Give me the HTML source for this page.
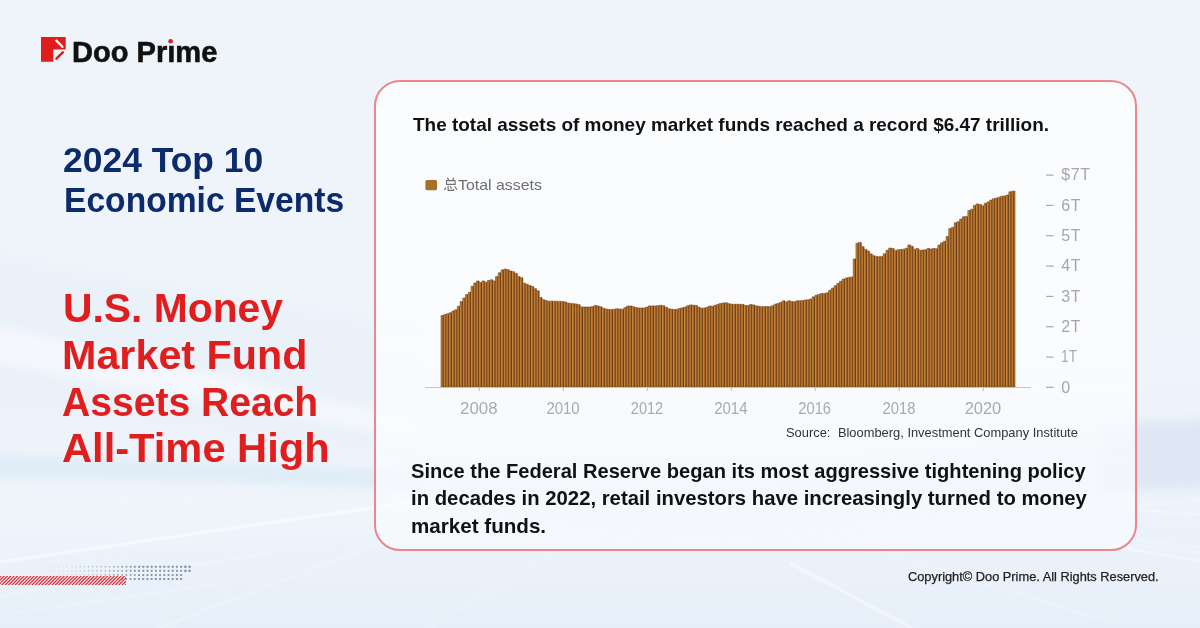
<!DOCTYPE html>
<html><head><meta charset="utf-8">
<style>
*{margin:0;padding:0;box-sizing:border-box}
html,body{width:1200px;height:628px;overflow:hidden}
body{position:relative;font-family:"Liberation Sans",sans-serif;background:#eef2f8}
.ln{position:absolute;white-space:nowrap;line-height:1;transform-origin:0 0}
.abs{position:absolute}

</style></head><body>
<svg class="abs" style="left:0;top:0" width="1200" height="628" viewBox="0 0 1200 628">
<defs>
<linearGradient id="g1" x1="0" y1="0" x2="0" y2="1">
<stop offset="0" stop-color="#eff4f9"/><stop offset="0.5" stop-color="#eef4fa"/><stop offset="1" stop-color="#ecf2fa"/>
</linearGradient>
<linearGradient id="gb" x1="0" y1="0" x2="0" y2="1"><stop offset="0" stop-color="#e8f0f9" stop-opacity="0"/><stop offset="0.5" stop-color="#e8f0f9" stop-opacity="0.5"/><stop offset="1" stop-color="#e5eef9" stop-opacity="0.8"/></linearGradient>
<filter id="b20" x="-50%" y="-50%" width="200%" height="200%"><feGaussianBlur stdDeviation="18"/></filter>
<filter id="b6" x="-50%" y="-50%" width="200%" height="200%"><feGaussianBlur stdDeviation="5"/></filter>
<filter id="b3" x="-50%" y="-50%" width="200%" height="200%"><feGaussianBlur stdDeviation="3"/></filter>
<filter id="b1" x="-10%" y="-50%" width="120%" height="200%"><feGaussianBlur stdDeviation="0.9"/></filter>
</defs>
<rect width="1200" height="628" fill="url(#g1)"/>
<!-- left ribbons -->
<path d="M-20 250 C 100 280, 250 300, 420 330 L 420 460 C 300 440, 150 420, -20 410 Z" fill="#e9f1f9" opacity="0.7" filter="url(#b6)"/>
<path d="M-20 320 C 80 345, 200 370, 420 420 L 420 440 C 200 400, 80 380, -20 360 Z" fill="#f5f8fc" opacity="0.9" filter="url(#b6)"/>
<path d="M-20 455 C 150 458, 300 466, 420 472 L 420 490 C 300 484, 150 478, -20 478 Z" fill="#dcebf7" opacity="0.75" filter="url(#b3)"/>
<path d="M-20 485 C 150 490, 300 495, 420 500 L 420 540 L -20 560 Z" fill="#f3f7fc" opacity="0.6" filter="url(#b6)"/>
<!-- right band -->
<path d="M1100 425 C 1140 420, 1180 420, 1220 418 L 1220 488 C 1180 490, 1140 490, 1100 492 Z" fill="#dbe6f4" opacity="0.8" filter="url(#b6)"/>
<path d="M420 470 C 700 500, 900 470, 1100 440 L 1100 490 C 900 510, 700 520, 420 500 Z" fill="#dfe8f4" opacity="0.8" filter="url(#b20)"/>
<!-- bottom tint -->
<rect x="0" y="500" width="1200" height="128" fill="url(#gb)"/>
<!-- streaks -->
<g fill="none" filter="url(#b1)">
<line x1="0" y1="562" x2="420" y2="501" stroke="#ffffff" stroke-width="2" opacity="0.85"/>
<line x1="0" y1="596" x2="300" y2="548" stroke="#f4fbff" stroke-width="1.5" opacity="0.6"/>
<line x1="0" y1="615" x2="280" y2="575" stroke="#f4fbff" stroke-width="1.5" opacity="0.5"/>
<line x1="158" y1="628" x2="420" y2="528" stroke="#f4fbff" stroke-width="1.5" opacity="0.6"/>
<line x1="790" y1="563" x2="912" y2="628" stroke="#ffffff" stroke-width="2" opacity="0.75"/>
<line x1="880" y1="551" x2="1110" y2="622" stroke="#f2fbff" stroke-width="1.8" opacity="0.6"/>
<line x1="1110" y1="546" x2="1200" y2="561" stroke="#ffffff" stroke-width="1.8" opacity="0.6"/>
<line x1="1130" y1="540" x2="1200" y2="547" stroke="#ffffff" stroke-width="1.5" opacity="0.5"/>
<line x1="1137" y1="505" x2="1200" y2="500" stroke="#ffffff" stroke-width="1.5" opacity="0.5"/>
<line x1="900" y1="490" x2="1200" y2="515" stroke="#ffffff" stroke-width="1.5" opacity="0.6"/>
<line x1="980" y1="530" x2="1200" y2="552" stroke="#f2fbff" stroke-width="1.5" opacity="0.6"/>
<line x1="430" y1="628" x2="560" y2="548" stroke="#f4fbff" stroke-width="1.5" opacity="0.5"/>
</g>
</svg>

<svg class="abs" style="left:0;top:0" width="1200" height="628" viewBox="0 0 1200 628">
<defs><clipPath id="hc"><rect x="0" y="576" width="126" height="9"/></clipPath></defs>
<g><rect x="188.45" y="565.60" width="2.30" height="2.30" rx="0.69" fill="#8393a3" opacity="1.00"/><rect x="184.24" y="565.60" width="2.30" height="2.30" rx="0.69" fill="#8393a3" opacity="1.00"/><rect x="180.18" y="565.75" width="2.00" height="2.00" rx="0.60" fill="#8393a3" opacity="1.00"/><rect x="175.97" y="565.75" width="2.00" height="2.00" rx="0.60" fill="#8393a3" opacity="1.00"/><rect x="171.76" y="565.75" width="2.00" height="2.00" rx="0.60" fill="#8393a3" opacity="1.00"/><rect x="167.55" y="565.75" width="2.00" height="2.00" rx="0.60" fill="#8393a3" opacity="1.00"/><rect x="163.34" y="565.75" width="2.00" height="2.00" rx="0.60" fill="#8393a3" opacity="1.00"/><rect x="159.13" y="565.75" width="2.00" height="2.00" rx="0.60" fill="#8393a3" opacity="1.00"/><rect x="154.92" y="565.75" width="2.00" height="2.00" rx="0.60" fill="#8393a3" opacity="1.00"/><rect x="150.71" y="565.75" width="2.00" height="2.00" rx="0.60" fill="#8393a3" opacity="1.00"/><rect x="146.50" y="565.75" width="2.00" height="2.00" rx="0.60" fill="#8393a3" opacity="1.00"/><rect x="142.29" y="565.75" width="2.00" height="2.00" rx="0.60" fill="#8393a3" opacity="1.00"/><rect x="138.09" y="565.76" width="1.99" height="1.99" rx="0.60" fill="#8393a3" opacity="0.99"/><rect x="133.90" y="565.78" width="1.94" height="1.94" rx="0.58" fill="#8393a3" opacity="0.94"/><rect x="129.71" y="565.80" width="1.89" height="1.89" rx="0.57" fill="#8393a3" opacity="0.90"/><rect x="125.53" y="565.83" width="1.84" height="1.84" rx="0.55" fill="#8393a3" opacity="0.85"/><rect x="121.34" y="565.85" width="1.80" height="1.80" rx="0.54" fill="#8393a3" opacity="0.81"/><rect x="117.16" y="565.88" width="1.75" height="1.75" rx="0.52" fill="#8393a3" opacity="0.76"/><rect x="112.97" y="565.90" width="1.70" height="1.70" rx="0.51" fill="#8393a3" opacity="0.72"/><rect x="108.79" y="565.93" width="1.65" height="1.65" rx="0.49" fill="#8393a3" opacity="0.67"/><rect x="104.60" y="565.95" width="1.60" height="1.60" rx="0.48" fill="#8393a3" opacity="0.63"/><rect x="100.41" y="565.97" width="1.55" height="1.55" rx="0.47" fill="#8393a3" opacity="0.59"/><rect x="96.23" y="566.00" width="1.50" height="1.50" rx="0.45" fill="#8393a3" opacity="0.55"/><rect x="92.04" y="566.02" width="1.46" height="1.46" rx="0.44" fill="#8393a3" opacity="0.51"/><rect x="87.86" y="566.05" width="1.41" height="1.41" rx="0.42" fill="#8393a3" opacity="0.47"/><rect x="83.67" y="566.07" width="1.36" height="1.36" rx="0.41" fill="#8393a3" opacity="0.43"/><rect x="79.49" y="566.10" width="1.31" height="1.31" rx="0.39" fill="#8393a3" opacity="0.40"/><rect x="75.30" y="566.12" width="1.26" height="1.26" rx="0.38" fill="#8393a3" opacity="0.36"/><rect x="71.11" y="566.14" width="1.21" height="1.21" rx="0.36" fill="#8393a3" opacity="0.32"/><rect x="66.93" y="566.17" width="1.16" height="1.16" rx="0.35" fill="#8393a3" opacity="0.29"/><rect x="62.74" y="566.19" width="1.11" height="1.11" rx="0.33" fill="#8393a3" opacity="0.26"/><rect x="58.56" y="566.22" width="1.07" height="1.07" rx="0.32" fill="#8393a3" opacity="0.23"/><rect x="54.37" y="566.24" width="1.02" height="1.02" rx="0.31" fill="#8393a3" opacity="0.20"/><rect x="50.19" y="566.27" width="0.97" height="0.97" rx="0.29" fill="#8393a3" opacity="0.17"/><rect x="46.00" y="566.29" width="0.92" height="0.92" rx="0.28" fill="#8393a3" opacity="0.15"/><rect x="41.81" y="566.31" width="0.87" height="0.87" rx="0.26" fill="#8393a3" opacity="0.12"/><rect x="37.63" y="566.34" width="0.82" height="0.82" rx="0.25" fill="#8393a3" opacity="0.11"/><rect x="188.45" y="569.65" width="2.30" height="2.30" rx="0.69" fill="#8393a3" opacity="1.00"/><rect x="184.24" y="569.65" width="2.30" height="2.30" rx="0.69" fill="#8393a3" opacity="1.00"/><rect x="180.18" y="569.80" width="2.00" height="2.00" rx="0.60" fill="#8393a3" opacity="1.00"/><rect x="175.97" y="569.80" width="2.00" height="2.00" rx="0.60" fill="#8393a3" opacity="1.00"/><rect x="171.76" y="569.80" width="2.00" height="2.00" rx="0.60" fill="#8393a3" opacity="1.00"/><rect x="167.55" y="569.80" width="2.00" height="2.00" rx="0.60" fill="#8393a3" opacity="1.00"/><rect x="163.34" y="569.80" width="2.00" height="2.00" rx="0.60" fill="#8393a3" opacity="1.00"/><rect x="159.13" y="569.80" width="2.00" height="2.00" rx="0.60" fill="#8393a3" opacity="1.00"/><rect x="154.92" y="569.80" width="2.00" height="2.00" rx="0.60" fill="#8393a3" opacity="1.00"/><rect x="150.71" y="569.80" width="2.00" height="2.00" rx="0.60" fill="#8393a3" opacity="1.00"/><rect x="146.50" y="569.80" width="2.00" height="2.00" rx="0.60" fill="#8393a3" opacity="1.00"/><rect x="142.29" y="569.80" width="2.00" height="2.00" rx="0.60" fill="#8393a3" opacity="1.00"/><rect x="138.09" y="569.81" width="1.99" height="1.99" rx="0.60" fill="#8393a3" opacity="0.99"/><rect x="133.90" y="569.83" width="1.94" height="1.94" rx="0.58" fill="#8393a3" opacity="0.94"/><rect x="129.71" y="569.85" width="1.89" height="1.89" rx="0.57" fill="#8393a3" opacity="0.90"/><rect x="125.53" y="569.88" width="1.84" height="1.84" rx="0.55" fill="#8393a3" opacity="0.85"/><rect x="121.34" y="569.90" width="1.80" height="1.80" rx="0.54" fill="#8393a3" opacity="0.81"/><rect x="117.16" y="569.93" width="1.75" height="1.75" rx="0.52" fill="#8393a3" opacity="0.76"/><rect x="112.97" y="569.95" width="1.70" height="1.70" rx="0.51" fill="#8393a3" opacity="0.72"/><rect x="108.79" y="569.98" width="1.65" height="1.65" rx="0.49" fill="#8393a3" opacity="0.67"/><rect x="104.60" y="570.00" width="1.60" height="1.60" rx="0.48" fill="#8393a3" opacity="0.63"/><rect x="100.41" y="570.02" width="1.55" height="1.55" rx="0.47" fill="#8393a3" opacity="0.59"/><rect x="96.23" y="570.05" width="1.50" height="1.50" rx="0.45" fill="#8393a3" opacity="0.55"/><rect x="92.04" y="570.07" width="1.46" height="1.46" rx="0.44" fill="#8393a3" opacity="0.51"/><rect x="87.86" y="570.10" width="1.41" height="1.41" rx="0.42" fill="#8393a3" opacity="0.47"/><rect x="83.67" y="570.12" width="1.36" height="1.36" rx="0.41" fill="#8393a3" opacity="0.43"/><rect x="79.49" y="570.15" width="1.31" height="1.31" rx="0.39" fill="#8393a3" opacity="0.40"/><rect x="75.30" y="570.17" width="1.26" height="1.26" rx="0.38" fill="#8393a3" opacity="0.36"/><rect x="71.11" y="570.19" width="1.21" height="1.21" rx="0.36" fill="#8393a3" opacity="0.32"/><rect x="66.93" y="570.22" width="1.16" height="1.16" rx="0.35" fill="#8393a3" opacity="0.29"/><rect x="62.74" y="570.24" width="1.11" height="1.11" rx="0.33" fill="#8393a3" opacity="0.26"/><rect x="58.56" y="570.27" width="1.07" height="1.07" rx="0.32" fill="#8393a3" opacity="0.23"/><rect x="54.37" y="570.29" width="1.02" height="1.02" rx="0.31" fill="#8393a3" opacity="0.20"/><rect x="50.19" y="570.32" width="0.97" height="0.97" rx="0.29" fill="#8393a3" opacity="0.17"/><rect x="46.00" y="570.34" width="0.92" height="0.92" rx="0.28" fill="#8393a3" opacity="0.15"/><rect x="41.81" y="570.36" width="0.87" height="0.87" rx="0.26" fill="#8393a3" opacity="0.12"/><rect x="37.63" y="570.39" width="0.82" height="0.82" rx="0.25" fill="#8393a3" opacity="0.11"/><rect x="180.10" y="573.90" width="2.00" height="2.00" rx="0.60" fill="#8393a3" opacity="1.00"/><rect x="175.89" y="573.90" width="2.00" height="2.00" rx="0.60" fill="#8393a3" opacity="1.00"/><rect x="171.68" y="573.90" width="2.00" height="2.00" rx="0.60" fill="#8393a3" opacity="1.00"/><rect x="167.47" y="573.90" width="2.00" height="2.00" rx="0.60" fill="#8393a3" opacity="1.00"/><rect x="163.26" y="573.90" width="2.00" height="2.00" rx="0.60" fill="#8393a3" opacity="1.00"/><rect x="159.05" y="573.90" width="2.00" height="2.00" rx="0.60" fill="#8393a3" opacity="1.00"/><rect x="154.84" y="573.90" width="2.00" height="2.00" rx="0.60" fill="#8393a3" opacity="1.00"/><rect x="150.63" y="573.90" width="2.00" height="2.00" rx="0.60" fill="#8393a3" opacity="1.00"/><rect x="146.42" y="573.90" width="2.00" height="2.00" rx="0.60" fill="#8393a3" opacity="1.00"/><rect x="142.21" y="573.90" width="2.00" height="2.00" rx="0.60" fill="#8393a3" opacity="1.00"/><rect x="138.01" y="573.91" width="1.99" height="1.99" rx="0.60" fill="#8393a3" opacity="0.99"/><rect x="133.82" y="573.93" width="1.94" height="1.94" rx="0.58" fill="#8393a3" opacity="0.94"/><rect x="129.63" y="573.95" width="1.89" height="1.89" rx="0.57" fill="#8393a3" opacity="0.90"/><rect x="125.45" y="573.98" width="1.84" height="1.84" rx="0.55" fill="#8393a3" opacity="0.85"/><rect x="121.26" y="574.00" width="1.79" height="1.79" rx="0.54" fill="#8393a3" opacity="0.80"/><rect x="117.08" y="574.03" width="1.75" height="1.75" rx="0.52" fill="#8393a3" opacity="0.76"/><rect x="112.89" y="574.05" width="1.70" height="1.70" rx="0.51" fill="#8393a3" opacity="0.72"/><rect x="108.71" y="574.08" width="1.65" height="1.65" rx="0.49" fill="#8393a3" opacity="0.67"/><rect x="104.52" y="574.10" width="1.60" height="1.60" rx="0.48" fill="#8393a3" opacity="0.63"/><rect x="100.33" y="574.12" width="1.55" height="1.55" rx="0.47" fill="#8393a3" opacity="0.59"/><rect x="96.15" y="574.15" width="1.50" height="1.50" rx="0.45" fill="#8393a3" opacity="0.55"/><rect x="91.96" y="574.17" width="1.45" height="1.45" rx="0.44" fill="#8393a3" opacity="0.51"/><rect x="87.78" y="574.20" width="1.41" height="1.41" rx="0.42" fill="#8393a3" opacity="0.47"/><rect x="83.59" y="574.22" width="1.36" height="1.36" rx="0.41" fill="#8393a3" opacity="0.43"/><rect x="79.41" y="574.25" width="1.31" height="1.31" rx="0.39" fill="#8393a3" opacity="0.39"/><rect x="75.22" y="574.27" width="1.26" height="1.26" rx="0.38" fill="#8393a3" opacity="0.36"/><rect x="71.03" y="574.29" width="1.21" height="1.21" rx="0.36" fill="#8393a3" opacity="0.32"/><rect x="66.85" y="574.32" width="1.16" height="1.16" rx="0.35" fill="#8393a3" opacity="0.29"/><rect x="62.66" y="574.34" width="1.11" height="1.11" rx="0.33" fill="#8393a3" opacity="0.26"/><rect x="58.48" y="574.37" width="1.07" height="1.07" rx="0.32" fill="#8393a3" opacity="0.23"/><rect x="54.29" y="574.39" width="1.02" height="1.02" rx="0.31" fill="#8393a3" opacity="0.20"/><rect x="50.11" y="574.42" width="0.97" height="0.97" rx="0.29" fill="#8393a3" opacity="0.17"/><rect x="45.92" y="574.44" width="0.92" height="0.92" rx="0.28" fill="#8393a3" opacity="0.14"/><rect x="41.73" y="574.46" width="0.87" height="0.87" rx="0.26" fill="#8393a3" opacity="0.12"/><rect x="37.55" y="574.49" width="0.82" height="0.82" rx="0.25" fill="#8393a3" opacity="0.11"/><rect x="180.10" y="578.00" width="2.00" height="2.00" rx="0.60" fill="#8393a3" opacity="1.00"/><rect x="175.89" y="578.00" width="2.00" height="2.00" rx="0.60" fill="#8393a3" opacity="1.00"/><rect x="171.68" y="578.00" width="2.00" height="2.00" rx="0.60" fill="#8393a3" opacity="1.00"/><rect x="167.47" y="578.00" width="2.00" height="2.00" rx="0.60" fill="#8393a3" opacity="1.00"/><rect x="163.26" y="578.00" width="2.00" height="2.00" rx="0.60" fill="#8393a3" opacity="1.00"/><rect x="159.05" y="578.00" width="2.00" height="2.00" rx="0.60" fill="#8393a3" opacity="1.00"/><rect x="154.84" y="578.00" width="2.00" height="2.00" rx="0.60" fill="#8393a3" opacity="1.00"/><rect x="150.63" y="578.00" width="2.00" height="2.00" rx="0.60" fill="#8393a3" opacity="1.00"/><rect x="146.42" y="578.00" width="2.00" height="2.00" rx="0.60" fill="#8393a3" opacity="1.00"/><rect x="142.21" y="578.00" width="2.00" height="2.00" rx="0.60" fill="#8393a3" opacity="1.00"/><rect x="138.01" y="578.01" width="1.99" height="1.99" rx="0.60" fill="#8393a3" opacity="0.99"/><rect x="133.82" y="578.03" width="1.94" height="1.94" rx="0.58" fill="#8393a3" opacity="0.94"/><rect x="129.63" y="578.05" width="1.89" height="1.89" rx="0.57" fill="#8393a3" opacity="0.90"/><rect x="125.45" y="578.08" width="1.84" height="1.84" rx="0.55" fill="#8393a3" opacity="0.85"/><rect x="121.26" y="578.10" width="1.79" height="1.79" rx="0.54" fill="#8393a3" opacity="0.80"/><rect x="117.08" y="578.13" width="1.75" height="1.75" rx="0.52" fill="#8393a3" opacity="0.76"/><rect x="112.89" y="578.15" width="1.70" height="1.70" rx="0.51" fill="#8393a3" opacity="0.72"/><rect x="108.71" y="578.18" width="1.65" height="1.65" rx="0.49" fill="#8393a3" opacity="0.67"/><rect x="104.52" y="578.20" width="1.60" height="1.60" rx="0.48" fill="#8393a3" opacity="0.63"/><rect x="100.33" y="578.22" width="1.55" height="1.55" rx="0.47" fill="#8393a3" opacity="0.59"/><rect x="96.15" y="578.25" width="1.50" height="1.50" rx="0.45" fill="#8393a3" opacity="0.55"/><rect x="91.96" y="578.27" width="1.45" height="1.45" rx="0.44" fill="#8393a3" opacity="0.51"/><rect x="87.78" y="578.30" width="1.41" height="1.41" rx="0.42" fill="#8393a3" opacity="0.47"/><rect x="83.59" y="578.32" width="1.36" height="1.36" rx="0.41" fill="#8393a3" opacity="0.43"/><rect x="79.41" y="578.35" width="1.31" height="1.31" rx="0.39" fill="#8393a3" opacity="0.39"/><rect x="75.22" y="578.37" width="1.26" height="1.26" rx="0.38" fill="#8393a3" opacity="0.36"/><rect x="71.03" y="578.39" width="1.21" height="1.21" rx="0.36" fill="#8393a3" opacity="0.32"/><rect x="66.85" y="578.42" width="1.16" height="1.16" rx="0.35" fill="#8393a3" opacity="0.29"/><rect x="62.66" y="578.44" width="1.11" height="1.11" rx="0.33" fill="#8393a3" opacity="0.26"/><rect x="58.48" y="578.47" width="1.07" height="1.07" rx="0.32" fill="#8393a3" opacity="0.23"/><rect x="54.29" y="578.49" width="1.02" height="1.02" rx="0.31" fill="#8393a3" opacity="0.20"/><rect x="50.11" y="578.52" width="0.97" height="0.97" rx="0.29" fill="#8393a3" opacity="0.17"/><rect x="45.92" y="578.54" width="0.92" height="0.92" rx="0.28" fill="#8393a3" opacity="0.14"/><rect x="41.73" y="578.56" width="0.87" height="0.87" rx="0.26" fill="#8393a3" opacity="0.12"/><rect x="37.55" y="578.59" width="0.82" height="0.82" rx="0.25" fill="#8393a3" opacity="0.11"/></g>
<g clip-path="url(#hc)" fill="#e2262c"><path d="M-9.00 585L0.00 576L1.65 576L-7.35 585Z"/><path d="M-5.66 585L3.34 576L4.99 576L-4.01 585Z"/><path d="M-2.32 585L6.68 576L8.33 576L-0.67 585Z"/><path d="M1.02 585L10.02 576L11.67 576L2.67 585Z"/><path d="M4.36 585L13.36 576L15.01 576L6.01 585Z"/><path d="M7.70 585L16.70 576L18.35 576L9.35 585Z"/><path d="M11.04 585L20.04 576L21.69 576L12.69 585Z"/><path d="M14.38 585L23.38 576L25.03 576L16.03 585Z"/><path d="M17.72 585L26.72 576L28.37 576L19.37 585Z"/><path d="M21.06 585L30.06 576L31.71 576L22.71 585Z"/><path d="M24.40 585L33.40 576L35.05 576L26.05 585Z"/><path d="M27.74 585L36.74 576L38.39 576L29.39 585Z"/><path d="M31.08 585L40.08 576L41.73 576L32.73 585Z"/><path d="M34.42 585L43.42 576L45.07 576L36.07 585Z"/><path d="M37.76 585L46.76 576L48.41 576L39.41 585Z"/><path d="M41.10 585L50.10 576L51.75 576L42.75 585Z"/><path d="M44.44 585L53.44 576L55.09 576L46.09 585Z"/><path d="M47.78 585L56.78 576L58.43 576L49.43 585Z"/><path d="M51.12 585L60.12 576L61.77 576L52.77 585Z"/><path d="M54.46 585L63.46 576L65.11 576L56.11 585Z"/><path d="M57.80 585L66.80 576L68.45 576L59.45 585Z"/><path d="M61.14 585L70.14 576L71.79 576L62.79 585Z"/><path d="M64.48 585L73.48 576L75.13 576L66.13 585Z"/><path d="M67.82 585L76.82 576L78.47 576L69.47 585Z"/><path d="M71.16 585L80.16 576L81.81 576L72.81 585Z"/><path d="M74.50 585L83.50 576L85.15 576L76.15 585Z"/><path d="M77.84 585L86.84 576L88.49 576L79.49 585Z"/><path d="M81.18 585L90.18 576L91.83 576L82.83 585Z"/><path d="M84.52 585L93.52 576L95.17 576L86.17 585Z"/><path d="M87.86 585L96.86 576L98.51 576L89.51 585Z"/><path d="M91.20 585L100.20 576L101.85 576L92.85 585Z"/><path d="M94.54 585L103.54 576L105.19 576L96.19 585Z"/><path d="M97.88 585L106.88 576L108.53 576L99.53 585Z"/><path d="M101.22 585L110.22 576L111.87 576L102.87 585Z"/><path d="M104.56 585L113.56 576L115.21 576L106.21 585Z"/><path d="M107.90 585L116.90 576L118.55 576L109.55 585Z"/><path d="M111.24 585L120.24 576L121.89 576L112.89 585Z"/><path d="M114.58 585L123.58 576L125.23 576L116.23 585Z"/><path d="M117.92 585L126.92 576L128.57 576L119.57 585Z"/><path d="M121.26 585L130.26 576L131.91 576L122.91 585Z"/><path d="M124.60 585L133.60 576L135.25 576L126.25 585Z"/></g>
</svg>
<svg class="abs" style="left:41px;top:37px" width="26" height="26" viewBox="0 0 26 26">
<path d="M0 0H24.7V12.4H12.2V24.7H0Z" fill="#e21b1b"/>
<path d="M15.4 3.6L21.4 9.8" stroke="#fff" stroke-width="2.3" stroke-linecap="round"/>
<path d="M15.4 21.6L21.8 15.4" stroke="#e21b1b" stroke-width="2.5" stroke-linecap="round"/>
</svg>
<div class="abs" style="left:373.8px;top:79.5px;width:763px;height:471px;border:2px solid #ec868b;border-radius:26px;background:linear-gradient(180deg,rgba(251,252,254,0.86) 0%,rgba(251,252,254,0.84) 60%,rgba(250,252,254,0.6) 100%)"></div>
<svg class="abs" style="left:0;top:0" width="1200" height="628" viewBox="0 0 1200 628">
<defs>
<pattern id="bars" x="441" y="0" width="2.73" height="10" patternUnits="userSpaceOnUse">
<rect width="2.73" height="10" fill="#a8662a"/>
<rect x="0.1" width="0.7" height="10" fill="#d49141"/>
<rect x="1.9" width="0.83" height="10" fill="#62380e"/>
</pattern>
</defs>
<path d="M441 387 L441.00 315.46 L443.73 315.46 L443.73 314.47 L446.46 314.47 L446.46 313.76 L449.19 313.76 L449.19 312.68 L451.92 312.68 L451.92 311.08 L454.65 311.08 L454.65 309.76 L457.38 309.76 L457.38 306.25 L460.11 306.25 L460.11 301.61 L462.84 301.61 L462.84 297.97 L465.57 297.97 L465.57 294.56 L468.30 294.56 L468.30 292.27 L471.03 292.27 L471.03 286.19 L473.76 286.19 L473.76 282.97 L476.49 282.97 L476.49 280.96 L479.22 280.96 L479.22 282.43 L481.95 282.43 L481.95 280.94 L484.68 280.94 L484.68 282.27 L487.41 282.27 L487.41 280.51 L490.14 280.51 L490.14 279.76 L492.87 279.76 L492.87 280.95 L495.60 280.95 L495.60 276.53 L498.33 276.53 L498.33 272.71 L501.06 272.71 L501.06 269.88 L503.79 269.88 L503.79 269.08 L506.52 269.08 L506.52 269.69 L509.25 269.69 L509.25 271.06 L511.98 271.06 L511.98 271.78 L514.71 271.78 L514.71 273.44 L517.44 273.44 L517.44 276.41 L520.17 276.41 L520.17 277.87 L522.90 277.87 L522.90 283.16 L525.63 283.16 L525.63 284.37 L528.36 284.37 L528.36 285.55 L531.09 285.55 L531.09 286.62 L533.82 286.62 L533.82 288.65 L536.55 288.65 L536.55 290.87 L539.28 290.87 L539.28 297.56 L542.01 297.56 L542.01 299.67 L544.74 299.67 L544.74 300.59 L547.47 300.59 L547.47 301.27 L550.20 301.27 L550.20 301.16 L552.93 301.16 L552.93 301.16 L555.66 301.16 L555.66 301.28 L558.39 301.28 L558.39 301.39 L561.12 301.39 L561.12 301.51 L563.85 301.51 L563.85 301.95 L566.58 301.95 L566.58 303.06 L569.31 303.06 L569.31 303.38 L572.04 303.38 L572.04 303.70 L574.77 303.70 L574.77 304.00 L577.50 304.00 L577.50 304.76 L580.23 304.76 L580.23 306.92 L582.96 306.92 L582.96 307.00 L585.69 307.00 L585.69 307.00 L588.42 307.00 L588.42 307.00 L591.15 307.00 L591.15 306.63 L593.88 306.63 L593.88 305.54 L596.61 305.54 L596.61 306.01 L599.34 306.01 L599.34 306.82 L602.07 306.82 L602.07 308.25 L604.80 308.25 L604.80 309.01 L607.53 309.01 L607.53 309.47 L610.26 309.47 L610.26 309.52 L612.99 309.52 L612.99 309.16 L615.72 309.16 L615.72 308.81 L618.45 308.81 L618.45 309.07 L621.18 309.07 L621.18 309.16 L623.91 309.16 L623.91 307.61 L626.64 307.61 L626.64 306.06 L629.37 306.06 L629.37 306.02 L632.10 306.02 L632.10 306.84 L634.83 306.84 L634.83 307.55 L637.56 307.55 L637.56 308.00 L640.29 308.00 L640.29 308.00 L643.02 308.00 L643.02 308.00 L645.75 308.00 L645.75 307.08 L648.48 307.08 L648.48 305.90 L651.21 305.90 L651.21 305.89 L653.94 305.89 L653.94 306.05 L656.67 306.05 L656.67 305.64 L659.40 305.64 L659.40 305.35 L662.13 305.35 L662.13 305.65 L664.86 305.65 L664.86 307.37 L667.59 307.37 L667.59 308.83 L670.32 308.83 L670.32 309.20 L673.05 309.20 L673.05 309.58 L675.78 309.58 L675.78 309.23 L678.51 309.23 L678.51 308.53 L681.24 308.53 L681.24 307.80 L683.97 307.80 L683.97 307.07 L686.70 307.07 L686.70 305.65 L689.43 305.65 L689.43 304.89 L692.16 304.89 L692.16 305.23 L694.89 305.23 L694.89 305.57 L697.62 305.57 L697.62 307.32 L700.35 307.32 L700.35 308.20 L703.08 308.20 L703.08 308.05 L705.81 308.05 L705.81 307.20 L708.54 307.20 L708.54 306.04 L711.27 306.04 L711.27 306.15 L714.00 306.15 L714.00 305.33 L716.73 305.33 L716.73 304.28 L719.46 304.28 L719.46 303.44 L722.19 303.44 L722.19 303.01 L724.92 303.01 L724.92 302.80 L727.65 302.80 L727.65 303.73 L730.38 303.73 L730.38 304.30 L733.11 304.30 L733.11 304.30 L735.84 304.30 L735.84 304.30 L738.57 304.30 L738.57 304.30 L741.30 304.30 L741.30 304.46 L744.03 304.46 L744.03 305.62 L746.76 305.62 L746.76 305.47 L749.49 305.47 L749.49 304.44 L752.22 304.44 L752.22 304.99 L754.95 304.99 L754.95 305.90 L757.68 305.90 L757.68 306.30 L760.41 306.30 L760.41 306.70 L763.14 306.70 L763.14 306.53 L765.87 306.53 L765.87 306.57 L768.60 306.57 L768.60 306.67 L771.33 306.67 L771.33 305.68 L774.06 305.68 L774.06 304.19 L776.79 304.19 L776.79 303.51 L779.52 303.51 L779.52 302.30 L782.25 302.30 L782.25 300.85 L784.98 300.85 L784.98 301.98 L787.71 301.98 L787.71 300.82 L790.44 300.82 L790.44 301.52 L793.17 301.52 L793.17 301.70 L795.90 301.70 L795.90 300.80 L798.63 300.80 L798.63 300.80 L801.36 300.80 L801.36 300.55 L804.09 300.55 L804.09 299.97 L806.82 299.97 L806.82 299.80 L809.55 299.80 L809.55 298.91 L812.28 298.91 L812.28 296.85 L815.01 296.85 L815.01 295.26 L817.74 295.26 L817.74 294.39 L820.47 294.39 L820.47 293.51 L823.20 293.51 L823.20 293.39 L825.93 293.39 L825.93 292.86 L828.66 292.86 L828.66 290.17 L831.39 290.17 L831.39 288.10 L834.12 288.10 L834.12 285.68 L836.85 285.68 L836.85 283.35 L839.58 283.35 L839.58 281.17 L842.31 281.17 L842.31 279.12 L845.04 279.12 L845.04 278.03 L847.77 278.03 L847.77 277.38 L850.50 277.38 L850.50 276.96 L853.23 276.96 L853.23 258.95 L855.96 258.95 L855.96 243.17 L858.69 243.17 L858.69 242.38 L861.42 242.38 L861.42 246.75 L864.15 246.75 L864.15 249.39 L866.88 249.39 L866.88 251.03 L869.61 251.03 L869.61 253.89 L872.34 253.89 L872.34 255.63 L875.07 255.63 L875.07 256.40 L877.80 256.40 L877.80 256.69 L880.53 256.69 L880.53 256.38 L883.26 256.38 L883.26 253.75 L885.99 253.75 L885.99 250.22 L888.72 250.22 L888.72 248.05 L891.45 248.05 L891.45 248.61 L894.18 248.61 L894.18 250.59 L896.91 250.59 L896.91 249.71 L899.64 249.71 L899.64 249.42 L902.37 249.42 L902.37 249.13 L905.10 249.13 L905.10 248.29 L907.83 248.29 L907.83 244.90 L910.56 244.90 L910.56 246.37 L913.29 246.37 L913.29 249.17 L916.02 249.17 L916.02 248.59 L918.75 248.59 L918.75 250.28 L921.48 250.28 L921.48 250.12 L924.21 250.12 L924.21 249.64 L926.94 249.64 L926.94 248.53 L929.67 248.53 L929.67 249.08 L932.40 249.08 L932.40 248.54 L935.13 248.54 L935.13 248.67 L937.86 248.67 L937.86 245.01 L940.59 245.01 L940.59 242.85 L943.32 242.85 L943.32 241.21 L946.05 241.21 L946.05 236.43 L948.78 236.43 L948.78 228.57 L951.51 228.57 L951.51 227.34 L954.24 227.34 L954.24 222.72 L956.97 222.72 L956.97 221.68 L959.70 221.68 L959.70 219.10 L962.43 219.10 L962.43 216.80 L965.16 216.80 L965.16 216.42 L967.89 216.42 L967.89 210.54 L970.62 210.54 L970.62 209.30 L973.35 209.30 L973.35 205.38 L976.08 205.38 L976.08 203.93 L978.81 203.93 L978.81 204.48 L981.54 204.48 L981.54 205.83 L984.27 205.83 L984.27 203.16 L987.00 203.16 L987.00 201.89 L989.73 201.89 L989.73 200.08 L992.46 200.08 L992.46 198.74 L995.19 198.74 L995.19 198.06 L997.92 198.06 L997.92 197.16 L1000.65 197.16 L1000.65 196.18 L1003.38 196.18 L1003.38 195.90 L1006.11 195.90 L1006.11 195.07 L1008.84 195.07 L1008.84 191.87 L1011.57 191.87 L1011.57 191.23 L1014.30 191.23 L1014.30 191.00 L1015.00 191.00 L1015 387 Z" fill="url(#bars)" stroke="#7a4a15" stroke-width="0.6"/>
<line x1="425" y1="387.5" x2="1031" y2="387.5" stroke="#c4c4c4" stroke-width="1"/>
<g stroke="#bbb" stroke-width="1">
<line x1="479.3" y1="388" x2="479.3" y2="391"/><line x1="563.3" y1="388" x2="563.3" y2="391"/>
<line x1="647.3" y1="388" x2="647.3" y2="391"/><line x1="731.3" y1="388" x2="731.3" y2="391"/>
<line x1="815.3" y1="388" x2="815.3" y2="391"/><line x1="899.3" y1="388" x2="899.3" y2="391"/>
<line x1="983.3" y1="388" x2="983.3" y2="391"/>
</g>
<g font-family="Liberation Sans" font-size="16" fill="#aaaaaa"><text x="460.1" y="413.6" textLength="37.5" lengthAdjust="spacingAndGlyphs">2008</text><text x="546.4" y="413.6" textLength="33.3" lengthAdjust="spacingAndGlyphs">2010</text><text x="630.8" y="413.6" textLength="32.4" lengthAdjust="spacingAndGlyphs">2012</text><text x="714.2" y="413.6" textLength="33.3" lengthAdjust="spacingAndGlyphs">2014</text><text x="798.3" y="413.6" textLength="32.7" lengthAdjust="spacingAndGlyphs">2016</text><text x="882.6" y="413.6" textLength="32.8" lengthAdjust="spacingAndGlyphs">2018</text><text x="964.7" y="413.6" textLength="36.5" lengthAdjust="spacingAndGlyphs">2020</text></g>
<g stroke="#a8a8a8" stroke-width="1.2"><line x1="1046.1" y1="175.10" x2="1053.6" y2="175.10"/><line x1="1046.1" y1="205.43" x2="1053.6" y2="205.43"/><line x1="1046.1" y1="235.76" x2="1053.6" y2="235.76"/><line x1="1046.1" y1="266.09" x2="1053.6" y2="266.09"/><line x1="1046.1" y1="296.42" x2="1053.6" y2="296.42"/><line x1="1046.1" y1="326.75" x2="1053.6" y2="326.75"/><line x1="1046.1" y1="357.08" x2="1053.6" y2="357.08"/><line x1="1046.1" y1="387.41" x2="1053.6" y2="387.41"/></g>
<g font-family="Liberation Sans" font-size="16" fill="#a6a6a6" letter-spacing="0.6"><text x="1061.3" y="180.30">$7T</text><text x="1061.3" y="210.63">6T</text><text x="1061.3" y="240.96">5T</text><text x="1061.3" y="271.29">4T</text><text x="1061.3" y="301.62">3T</text><text x="1061.3" y="331.95">2T</text><text x="1061.3" y="362.28" textLength="16" lengthAdjust="spacingAndGlyphs">1T</text><text x="1061.3" y="392.61">0</text></g>
<rect x="425.4" y="180.1" width="11.7" height="10.1" rx="1.6" fill="#a86f2a"/>
<g fill="none" stroke="#707070" stroke-width="1.15" stroke-linecap="round" stroke-linejoin="round">
<path d="M447.4 178.2L448.6 179.5M453.7 178.2L452.7 179.6"/>
<rect x="446.5" y="180.6" width="8.6" height="3.8"/>
<path d="M444.6 189.6L445.7 187.9M448.1 186.2V190.3H453.6V189.3M450.4 186.7L451.6 188.5M455 186.8L456.7 189.5"/>
</g>

</svg>
<div class="ln" style="left:458.0px;top:177.6px;font-size:14.2px;font-weight:normal;color:#6e6e6e;transform:scaleX(1.1189);">Total assets</div>
<div class="ln" style="left:72.17px;top:37.7px;font-size:28.63px;font-weight:bold;color:#111111;transform:scaleX(1.015);-webkit-text-stroke:0.6px #111">Doo Prıme</div>
<div class="ln" style="left:63.16px;top:143.1px;font-size:34.2px;font-weight:bold;color:#0c2b6c;transform:scaleX(1.0366);">2024 Top 10</div>
<div class="ln" style="left:64.03px;top:183.4px;font-size:34.2px;font-weight:bold;color:#0c2b6c;transform:scaleX(0.983);">Economic Events</div>
<div class="ln" style="left:62.78px;top:288.3px;font-size:40.5px;font-weight:bold;color:#e01e1e;transform:scaleX(1.0079);">U.S. Money</div>
<div class="ln" style="left:62.44px;top:334.5px;font-size:40.5px;font-weight:bold;color:#e01e1e;transform:scaleX(1.0196);">Market Fund</div>
<div class="ln" style="left:62.24px;top:381.8px;font-size:40.5px;font-weight:bold;color:#e01e1e;transform:scaleX(0.9645);">Assets Reach</div>
<div class="ln" style="left:62.17px;top:427.8px;font-size:40.5px;font-weight:bold;color:#e01e1e;transform:scaleX(1.0284);">All-Time High</div>
<div class="ln" style="left:412.5px;top:115.8px;font-size:18.17px;font-weight:bold;color:#111111;transform:scaleX(1.0436);">The total assets of money market funds reached a record $6.47 trillion.</div>
<div class="ln" style="left:411.46px;top:461.5px;font-size:19.3px;font-weight:bold;color:#111111;transform:scaleX(1.0423);">Since the Federal Reserve began its most aggressive tightening policy</div>
<div class="ln" style="left:411.45px;top:489.3px;font-size:19.3px;font-weight:bold;color:#111111;transform:scaleX(1.053);">in decades in 2022, retail investors have increasingly turned to money</div>
<div class="ln" style="left:411.43px;top:517.3px;font-size:19.3px;font-weight:bold;color:#111111;transform:scaleX(1.0685);">market funds.</div>
<div class="ln" style="left:786.13px;top:426.8px;font-size:12.06px;font-weight:normal;color:#333333;transform:scaleX(1.0694);">Source:  Bloomberg, Investment Company Institute</div>
<div class="ln" style="left:907.6px;top:571.2px;font-size:12.79px;font-weight:normal;color:#222222;transform:scaleX(1.0016);-webkit-text-stroke:0.25px #222">Copyright© Doo Prime. All Rights Reserved.</div>
<svg class="abs" style="left:0;top:0" width="300" height="100"><circle cx="170.6" cy="41.2" r="2.3" fill="#e5191e"/></svg>
</body></html>
